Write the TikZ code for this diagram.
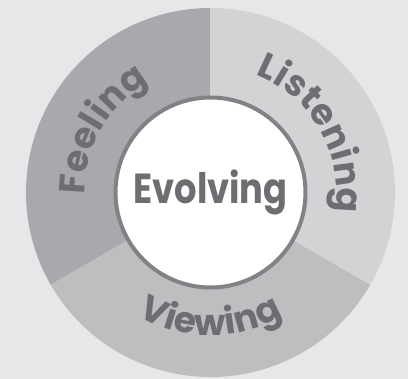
\documentclass[tikz,border=0pt]{standalone}
\usepackage{fontspec}
\newfontfamily\pop{Poppins}
\usetikzlibrary{decorations.text}
\definecolor{bgc}{HTML}{E6E7E8}
\definecolor{cfeel}{HTML}{A7A9AC}
\definecolor{clist}{HTML}{D1D3D4}
\definecolor{cview}{HTML}{BCBEC0}
\definecolor{txt}{HTML}{6D6E71}
\definecolor{ring}{HTML}{808285}
\newcommand{\arcfont}{\pop\bfseries\fontsize{36}{36}\selectfont}
\tikzset{
  arctext/.style={decorate, decoration={text effects along path, text={#1}, text align=center,
      text effects/.cd, text along path,
      characters={font=\arcfont, text=txt},
      character widths={font=\arcfont, inner xsep=0.2pt}}},
}
\begin{document}
\begin{tikzpicture}[x=1pt,y=1pt]
\useasboundingbox (-210.5,-186.5) rectangle (197.5,192.5);
\fill[bgc] (-210.5,-186.5) rectangle (197.5,192.5);
\fill[cfeel] (0,0) -- (90:184.5) arc[start angle=90,end angle=210,radius=184.5] -- cycle;
\fill[cview] (0,0) -- (210:184.5) arc[start angle=210,end angle=330,radius=184.5] -- cycle;
\fill[clist] (0,0) -- (330:184.5) arc[start angle=330,end angle=450,radius=184.5] -- cycle;
\node[circle, draw=ring, line width=4pt, fill=white, minimum size=190pt, inner sep=0pt,
  font=\pop\bfseries\fontsize{42}{42}\selectfont, text=txt] (ev) at (0,0) {\scalebox{0.84}[1]{Evolving}};
\path[arctext=Feeling] (200:126) arc[start angle=200,end angle=100,radius=126];
\path[arctext=Listening] (80:126) arc[start angle=80,end angle=-20,radius=126];
\path[arctext=Viewing] (220:143) arc[start angle=220,end angle=320,radius=143];
\end{tikzpicture}
\end{document}
